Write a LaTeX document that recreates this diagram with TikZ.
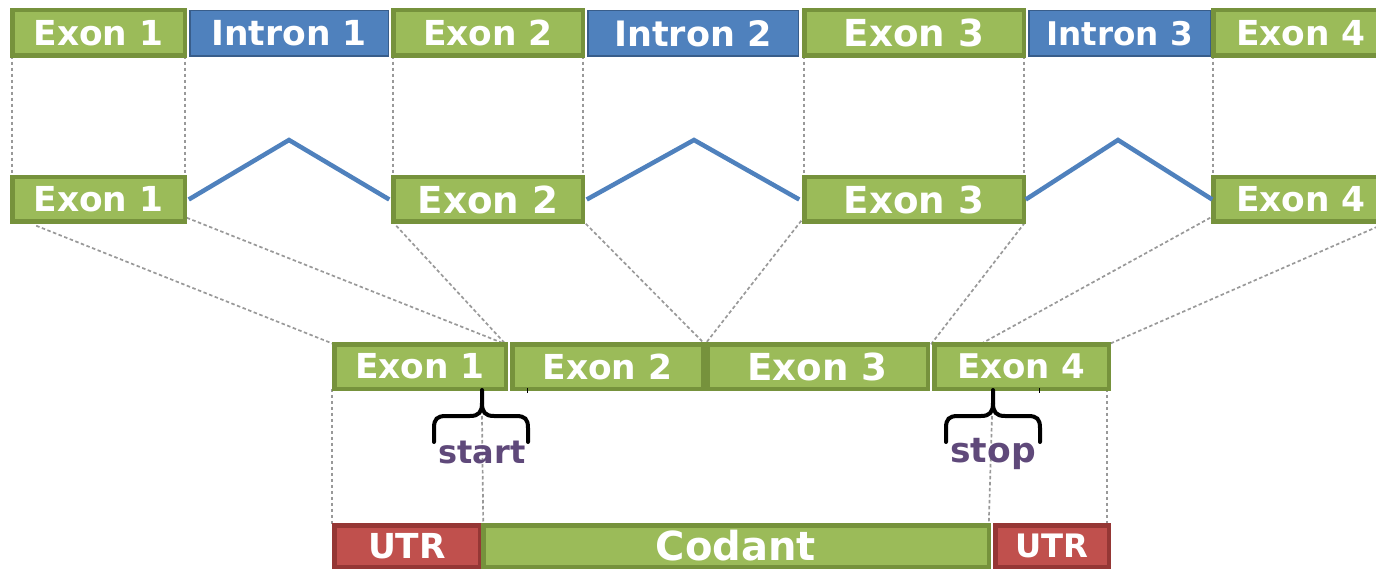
\documentclass[tikz,border=0pt]{standalone}
\usepackage{fontspec}
\setmainfont{DejaVu Sans}
\usetikzlibrary{calc,backgrounds}
\definecolor{exonfill}{HTML}{9BBB59}
\definecolor{exonborder}{HTML}{76923C}
\definecolor{intronfill}{HTML}{4F81BD}
\definecolor{intronborder}{HTML}{385D8A}
\definecolor{utrfill}{HTML}{C0504D}
\definecolor{utrborder}{HTML}{953735}
\definecolor{guidegray}{HTML}{999999}
\definecolor{labelpurple}{HTML}{5F497A}
\tikzset{
  fs/.style={font=\fontsize{#1}{#1}\selectfont\bfseries},
  exonbox/.style={draw=exonborder, fill=exonfill, line width=4.5pt, text=white, inner sep=0pt, outer sep=0pt},
  intronbox/.style={draw=intronborder, fill=intronfill, line width=1.5pt, text=white, inner sep=0pt, outer sep=0pt},
  utrbox/.style={draw=utrborder, fill=utrfill, line width=4.5pt, text=white, inner sep=0pt, outer sep=0pt},
  guide/.style={draw=guidegray, line width=1.7pt, dash pattern=on 3.5pt off 2.5pt},
  splice/.style={draw=intronfill, line width=4.5pt},
  bracestroke/.style={draw=black, line width=4pt, line cap=round},
  bracelabel/.style={text=labelpurple, inner sep=0pt, anchor=base}
}
\begin{document}
\begin{tikzpicture}[x=1pt,y=-1pt]
\useasboundingbox (0,0) rectangle (1376,569);
\clip (0,0) rectangle (1376,569);

% top row: pre-mRNA
\node[intronbox, fs=34.5, minimum width=198.5pt, minimum height=45.5pt] (t2) at (289,33.5) {Intron 1};
\node[intronbox, fs=35, minimum width=210.5pt, minimum height=45.5pt] (t4) at (693,33.5) {Intron 2};
\node[intronbox, fs=32.6, minimum width=181.5pt, minimum height=45.5pt] (t6) at (1119.5,33.5) {Intron 3};
\node[exonbox, fs=34.4, minimum width=172.5pt, minimum height=45.5pt] (t1) at (98.5,33) {Exon 1};
\node[exonbox, fs=34.4, minimum width=189.5pt, minimum height=45.5pt] (t3) at (488,33) {Exon 2};
\node[exonbox, fs=37.2, minimum width=219.5pt, minimum height=45.5pt] (t5) at (914,33) {Exon 3};
\node[exonbox, fs=34.4, minimum width=175.5pt, minimum height=45.5pt] (t7) at (1301,33) {Exon 4};

% middle row: splicing
\node[exonbox, fs=34.4, minimum width=172.5pt, minimum height=44.5pt] (m1) at (98.5,199.5) {Exon 1};
\node[exonbox, fs=37.2, minimum width=189.5pt, minimum height=44.5pt] (m2) at (488,199.5) {Exon 2};
\node[exonbox, fs=37.2, minimum width=219.5pt, minimum height=44.5pt] (m3) at (914,199.5) {Exon 3};
\node[exonbox, fs=34.4, minimum width=175.5pt, minimum height=44.5pt] (m4) at (1301,199.5) {Exon 4};

% mature mRNA
\node[exonbox, fs=34.4, minimum width=171.5pt, minimum height=44.5pt] (b1) at (420,366.5) {Exon 1};
\node[exonbox, fs=34.4, minimum width=190.5pt, minimum height=44.5pt] (b2) at (607.5,366.5) {Exon 2};
\node[exonbox, fs=37.2, minimum width=220.5pt, minimum height=44.5pt] (b3) at (817.5,366.5) {Exon 3};
\node[exonbox, fs=34, minimum width=174.5pt, minimum height=44.5pt] (b4) at (1021.5,366.5) {Exon 4};

% bottom row
\node[utrbox, fs=34.4, minimum width=145.5pt, minimum height=41.5pt] (u1) at (407,546) {UTR};
\node[exonbox, fs=40, minimum width=505.5pt, minimum height=41.5pt] (c) at (736,546) {Codant};
\node[utrbox, fs=32.3, minimum width=113.5pt, minimum height=41.5pt] (u2) at (1052,546) {UTR};

% braces
\coordinate (st) at (482,416);
\coordinate (sp) at (992,416);
\draw[bracestroke] (434,442) -- (434,428) .. controls (434,419) and (437,416) .. (446,416) -- (470,416) .. controls (479,416) and (482,412) .. (482,403) -- (482,390);
\draw[bracestroke] (482,403) .. controls (482,412) and (485,416) .. (494,416) -- (516,416) .. controls (525,416) and (528,419) .. (528,428) -- (528,442);
\draw[bracestroke] (946,442) -- (946,428) .. controls (946,419) and (949,416) .. (958,416) -- (981,416) .. controls (990,416) and (993,412) .. (993,403) -- (993,390);
\draw[bracestroke] (993,403) .. controls (993,412) and (996,416) .. (1005,416) -- (1028,416) .. controls (1037,416) and (1040,419) .. (1040,428) -- (1040,442);
\draw[line width=1pt] (527,388) -- (527,393);
\draw[line width=1pt] (1039,388) -- (1039,393);
\node[bracelabel, fs=32] (lstart) at (482,463) {start};
\node[bracelabel, fs=34.5] (lstop) at (993,462) {stop};

% splice lines
\coordinate (a1) at (289,140);
\coordinate (a2) at (694,140);
\coordinate (a3) at (1118,140);
\draw[splice] ($(m1.east)+(4,0)$) -- (a1) -- ($(m2.west)+(-4,0)$);
\draw[splice] ($(m2.east)+(4,0)$) -- (a2) -- ($(m3.west)+(-5,0)$);
\draw[splice] ($(m3.east)+(2,0)$) -- (a3) -- ($(m4.west)+(-1,0)$);

% guide lines
\begin{pgfonlayer}{background}
\draw[guide] (t1.south west) -- (m1.north west);
\draw[guide] (t1.south east) -- (m1.north east);
\draw[guide] (t3.south west) -- (m2.north west);
\draw[guide] (t3.south east) -- (m2.north east);
\draw[guide] (t5.south west) -- (m3.north west);
\draw[guide] (t5.south east) -- (m3.north east);
\draw[guide] (t7.south west) -- (m4.north west);
\draw[guide] (t7.south east) -- (m4.north east);
\draw[guide] ($(m1.south west)+(24,4)$) -- (b1.north west);
\draw[guide] ($(m1.south east)+(2,-4)$) -- (b1.north east);
\draw[guide] ($(m2.south west)+(3,4)$) -- (b1.north east);
\draw[guide] ($(m2.south east)+(3,2)$) -- ($(b2.north east)!0.5!(b3.north west)$);
\draw[guide] ($(m3.south west)+(-3,-1)$) -- ($(b2.north east)!0.5!(b3.north west)$);
\draw[guide] ($(m3.south east)+(1,1)$) -- ($(b3.north east)!0.5!(b4.north west)$);
\draw[guide] ($(m4.south west)+(-3,-4)$) -- ($(b4.north west)+(46,0)$);
\draw[guide] (m4.south east) -- (b4.north east);
\draw[guide] ($(b1.south west)+(-2,0)$) -- ($(u1.north west)+(-2,0)$);
\draw[guide] (st) -- (c.north west);
\draw[guide] (sp) -- (c.north east);
\draw[guide] ($(b4.south east)+(-2,0)$) -- ($(u2.north east)+(-2,0)$);
\end{pgfonlayer}
\end{tikzpicture}
\end{document}
